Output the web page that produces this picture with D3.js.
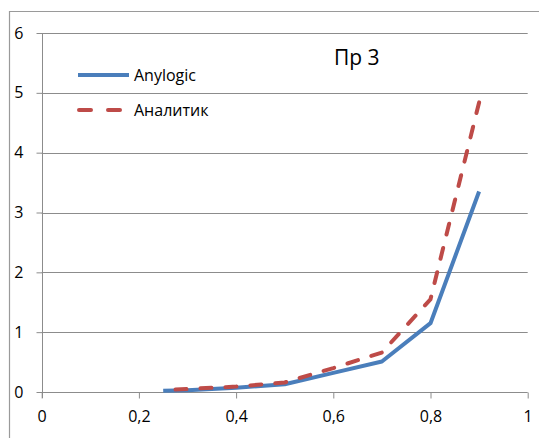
<!DOCTYPE html>
<html><head><meta charset="utf-8">
<script src="https://cdn.jsdelivr.net/npm/d3@7"></script>
<style>body{margin:0;background:#fff}svg{display:block}text{font-family:"Open Sans","Liberation Sans",sans-serif;fill:#000}</style>
</head><body><div id="c"></div>
<script>
const xValues = [0.25, 0.3, 0.4, 0.5, 0.6, 0.7, 0.8, 0.9];
const anylogic = [0.02, 0.03, 0.07, 0.13, 0.32, 0.51, 1.15, 3.35];
const analytic = [0.03, 0.05, 0.09, 0.16, 0.40, 0.66, 1.55, 4.84];
const seriesNames = ["Anylogic", "Аналитик"];
const xTicks = [0, 0.2, 0.4, 0.6, 0.8, 1];
const yTicks = [0, 1, 2, 3, 4, 5, 6];
const title = "Пр 3";

const W = 539, H = 438;
const svg = d3.select("#c").append("svg").attr("width", W).attr("height", H);
const x = d3.scaleLinear().domain([0, 1]).range([41.7, 527.7]);
const y = d3.scaleLinear().domain([0, 6]).range([392, 33]);
const fmt = d => String(d).replace(".", ",");

// outer border
svg.append("path").attr("d", `M9.5,${H} V11.5 H${W}`).attr("fill","none").attr("stroke","#9a9a9a").attr("stroke-width",1.2);

// gridlines
svg.append("g").selectAll("line").data(yTicks.filter(d=>d>0)).join("line")
  .attr("x1", x(0)).attr("x2", x(1)).attr("y1", d=>Math.round(y(d))+0.5).attr("y2", d=>Math.round(y(d))+0.5)
  .attr("stroke","#8c8c8c").attr("stroke-width",1);

// axes
const yAxis = d3.axisLeft(y).tickValues(yTicks).tickFormat(fmt).tickSize(6).tickPadding(13);
const gy = svg.append("g").attr("transform",`translate(${Math.round(x(0))+0.5},0)`).call(yAxis);
const xAxis = d3.axisBottom(x).tickValues(xTicks).tickFormat(fmt).tickSize(6).tickPadding(12);
const gx = svg.append("g").attr("transform",`translate(0,${Math.round(y(0))+0.5})`).call(xAxis);
[gx, gy].forEach(g => {
  g.select(".domain").attr("stroke","#8c8c8c");
  g.selectAll(".tick line").attr("stroke","#8c8c8c");
  g.selectAll("text").attr("font-size", 16).attr("font-family","'Open Sans','Liberation Sans',sans-serif").attr("fill","#000");
});
gy.select(".domain").attr("d", `M-0,${y(6)}V${y(0)+6}`);
gx.select(".domain").attr("d", `M${x(0)},0H${x(1)}`);

// lines
const line = d3.line().x((d,i)=>x(xValues[i])).y(d=>y(d));
svg.append("path").datum(anylogic).attr("d", line).attr("fill","none")
  .attr("stroke","#4a7ebb").attr("stroke-width",4).attr("stroke-linejoin","round");
const red = svg.append("path").datum(analytic).attr("d", line).attr("fill","none")
  .attr("stroke","#be4b48").attr("stroke-width",4).attr("stroke-dasharray","11,14").attr("stroke-linecap","round");
const L = red.node().getTotalLength();
red.attr("stroke-dashoffset", (((11 - L) % 25) + 25) % 25);

// title
svg.append("text").attr("x", 334).attr("y", 65).attr("font-size", 21).text(title);

// legend
const lg = svg.append("g");
lg.append("line").attr("x1",78).attr("x2",129).attr("y1",75).attr("y2",75).attr("stroke","#4a7ebb").attr("stroke-width",4);
lg.append("line").attr("x1",79).attr("x2",126).attr("y1",110).attr("y2",110).attr("stroke","#be4b48").attr("stroke-width",4)
  .attr("stroke-dasharray","12,17").attr("stroke-linecap","round");
lg.selectAll("text").data(seriesNames).join("text")
  .attr("x",134).attr("y",(d,i)=>75+35*i).attr("dy","0.35em").attr("font-size",16).text(d=>d);
</script></body></html>
